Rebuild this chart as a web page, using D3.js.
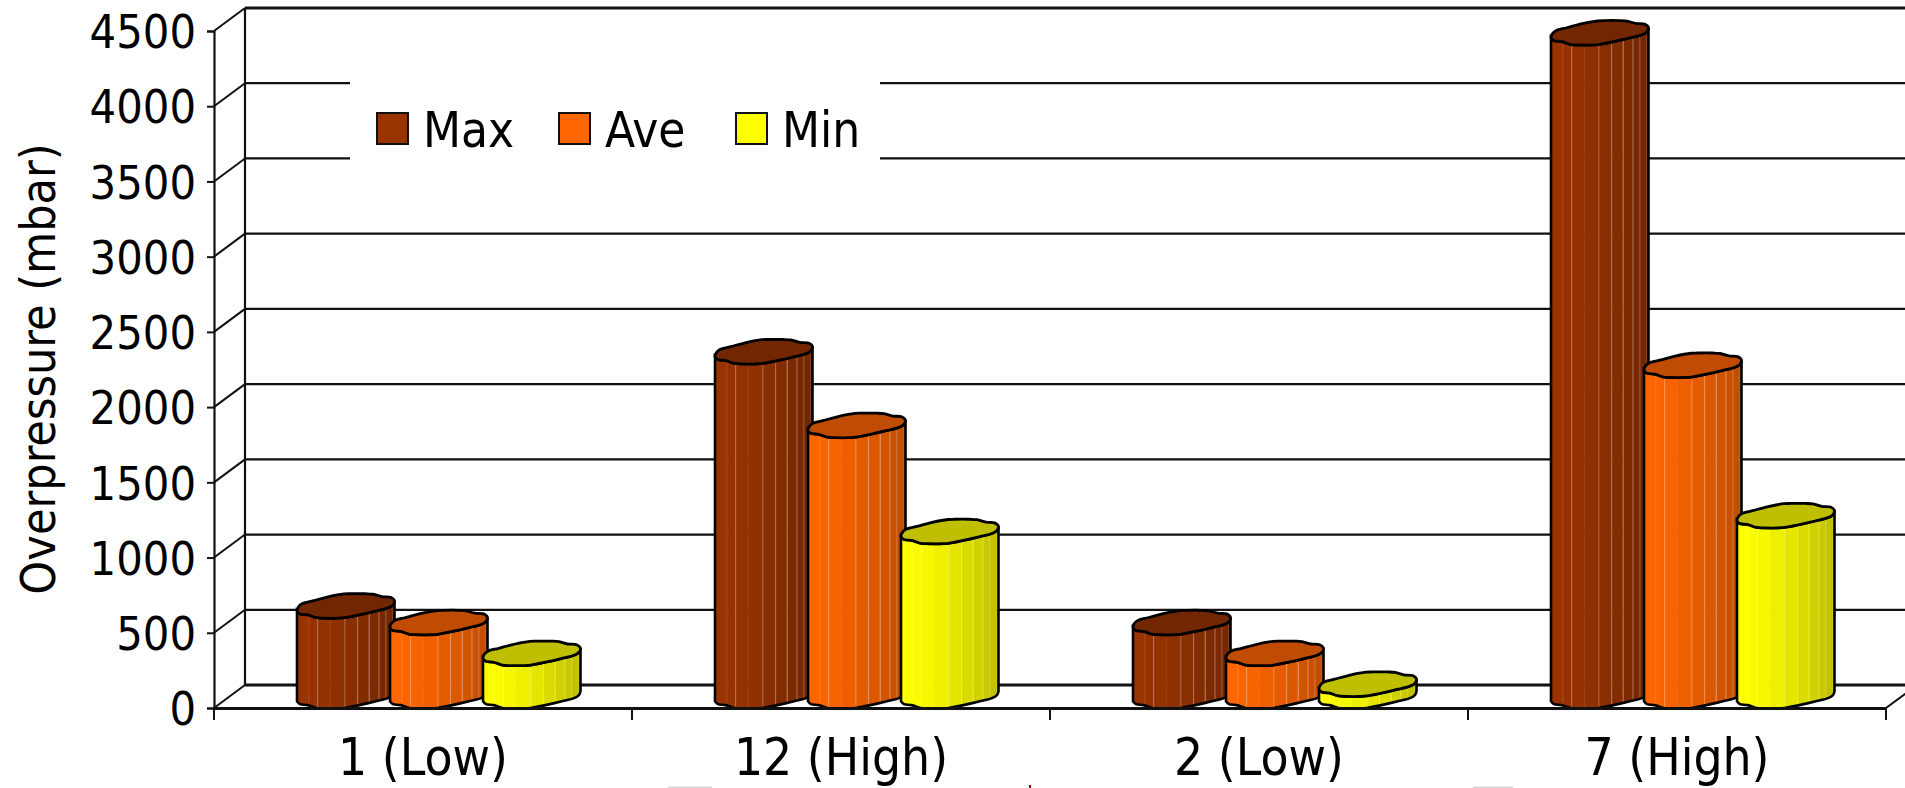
<!DOCTYPE html>
<html>
<head>
<meta charset="utf-8">
<style>
html, body { margin: 0; padding: 0; background: #fff; overflow: hidden; }
svg { display: block; }
text { font-family: "DejaVu Sans Condensed", "DejaVu Sans", sans-serif; fill: #000; }
</style>
<script src="https://cdnjs.cloudflare.com/ajax/libs/d3/7.8.5/d3.min.js"></script>
</head>
<body>
<script>
// Chart data
const categories = ["1 (Low)", "12 (High)", "2 (Low)", "7 (High)"];
const seriesNames = ["Max", "Ave", "Min"];
const maxValues = [600, 2290, 490, 4410];
const aveValues = [490, 1800, 285, 2200];
const minValues = [285, 1095, 80, 1200];
const yTicks = [0, 500, 1000, 1500, 2000, 2500, 3000, 3500, 4000, 4500];
const sideColors = ["#993300", "#ff6600", "#ffff00"];
const capColors = ["#722700", "#bf4c00", "#bfbf00"];

const seriesValues = [maxValues, aveValues, minValues];

const width = 1905, height = 788;
const depthX = 31, depthY = 23;
const barWidth = 97.5, capHeight = 24;

const svg = d3.select("body").append("svg").attr("width", width).attr("height", height);
const defs = svg.append("defs");

const x = d3.scaleBand().domain(categories).range([214, 1886]);
const xInner = d3.scaleBand().domain(seriesNames).range([83, 362]);
const y = d3.scaleLinear().domain([0, 4500]).range([708, 31]);

// Back wall: gridlines, wall edge and the slanted joints to the front axis
const wall = svg.append("g").attr("stroke", "#111").attr("fill", "none");
wall.selectAll("line.grid").data(yTicks).join("line").attr("class", "grid")
  .attr("x1", x.range()[0] + depthX).attr("x2", width)
  .attr("y1", d => y(d) - depthY).attr("y2", d => y(d) - depthY)
  .attr("stroke-width", d => (d === 0 || d === 4500) ? 3 : 2.2);
wall.selectAll("line.joint").data(yTicks).join("line").attr("class", "joint")
  .attr("x1", x.range()[0]).attr("x2", x.range()[0] + depthX)
  .attr("y1", d => y(d)).attr("y2", d => y(d) - depthY)
  .attr("stroke-width", 2);
wall.append("line")
  .attr("x1", x.range()[0] + depthX).attr("x2", x.range()[0] + depthX)
  .attr("y1", y(4500) - depthY).attr("y2", y(0) - depthY)
  .attr("stroke-width", 2.2);
wall.append("line")
  .attr("x1", x.range()[1]).attr("x2", x.range()[1] + depthX)
  .attr("y1", y(0)).attr("y2", y(0) - depthY)
  .attr("stroke-width", 2);

// Faceted cross-section of a cylinder, in unit coordinates of its bounding box.
// Extra points along the long sloping edges keep those edges nearly straight.
const capOutline = [
  [0, .72], [.012, .56], [.05, .42], [.16, .3], [.32, .13], [.48, .01], [.55, 0], [.7, 0], [.78, .02],
  [.87, .12], [.96, .15], [1, .3], [.985, .46], [.94, .58], [.8, .73], [.64, .88], [.49, 1], [.42, 1.02],
  [.28, 1.02], [.2, 1], [.11, .88], [.03, .84]
];
// Lower half of that outline, left to right, which forms the visible base edge
const frontOutline = [
  [0, .72], [.03, .84], [.11, .88], [.2, 1], [.28, 1.02], [.42, 1.02], [.49, 1], [.64, .88], [.8, .73],
  [.94, .58], [.985, .46], [1, .3]
];
// Facet boundaries across the body, with the highlight strength of each seam
const facetStops = [0, .12, .21, .34, .49, .62, .74, .84, .91, .98, 1];
const seamOpacity = [.12, .3, .04, .26, .3, .32, .3, .22, .12];

const capLine = d3.line().curve(d3.curveCatmullRomClosed.alpha(.5));
const edgeLine = d3.line().curve(d3.curveCatmullRom.alpha(.5));

function drawBar(group, left, value, sIndex, id) {
  const capTop = y(value) - capHeight;
  const floorTop = y(0) - capHeight;
  const px = p => left + p[0] * barWidth;
  const topEdge = frontOutline.map(p => [px(p), capTop + p[1] * capHeight]);
  const baseEdge = frontOutline.map(p => [px(p), floorTop + p[1] * capHeight]).reverse();
  const bodyPath = edgeLine(topEdge) + "L" + edgeLine(baseEdge).slice(1) + "Z";

  defs.append("clipPath").attr("id", id).append("path").attr("d", bodyPath);

  // The facets stay close to full colour on the lit side and fall off towards the right
  const side = d3.color(sideColors[sIndex]);
  const shade = d3.scalePow().exponent(1.6).domain([0, 1]).range([side, side.darker(.85)]);
  const strips = group.append("g").attr("clip-path", `url(#${id})`);
  d3.pairs(facetStops).forEach(([a, b]) => {
    strips.append("rect")
      .attr("x", left + a * barWidth).attr("width", (b - a) * barWidth + .5)
      .attr("y", capTop - 2).attr("height", y(0) - capTop + 4)
      .attr("fill", shade((a + b) / 2));
  });
  facetStops.slice(1, -1).forEach((f, i) => {
    strips.append("rect")
      .attr("x", left + f * barWidth - .5).attr("width", 1.2)
      .attr("y", capTop - 2).attr("height", y(0) - capTop + 4)
      .attr("fill", "#fff").attr("opacity", seamOpacity[i]);
  });

  group.append("path").attr("d", bodyPath)
    .attr("fill", "none").attr("stroke", "#000").attr("stroke-width", 2.6);
  group.append("path")
    .attr("d", capLine(capOutline.map(p => [px(p), capTop + p[1] * capHeight])))
    .attr("fill", capColors[sIndex]).attr("stroke", "#000").attr("stroke-width", 2.8);
}

// Cylinders, painted left to right so each one overlaps the previous
const bars = svg.append("g");
categories.forEach((cat, c) => {
  seriesNames.forEach((name, s) => {
    drawBar(bars.append("g"), x(cat) + xInner(name), seriesValues[s][c], s, `body-${c}-${s}`);
  });
});

// Value axis
const yAxis = svg.append("g").attr("transform", `translate(${x.range()[0]},0)`)
  .call(d3.axisLeft(y).tickValues(yTicks).tickFormat(d3.format("d")).tickSize(7).tickPadding(11));
yAxis.attr("font-family", null);
yAxis.select(".domain").attr("stroke", "#111").attr("stroke-width", 2.2);
yAxis.selectAll(".tick line").attr("stroke", "#111").attr("stroke-width", 2);
yAxis.selectAll(".tick text").attr("font-size", 46.5).attr("dy", ".36em");

// Category axis, with ticks on the category boundaries
const xAxis = svg.append("g").attr("transform", `translate(0,${y(0)})`)
  .call(d3.axisBottom(x).tickSize(0).tickPadding(30));
xAxis.attr("font-family", null);
xAxis.select(".domain").attr("stroke", "#111").attr("stroke-width", 3);
xAxis.selectAll(".tick text").attr("font-size", 51).attr("y", 67).attr("dy", 0);
xAxis.selectAll("line.boundary").data(d3.range(categories.length + 1)).join("line")
  .attr("class", "boundary")
  .attr("x1", i => x.range()[0] + i * x.bandwidth()).attr("x2", i => x.range()[0] + i * x.bandwidth())
  .attr("y1", 0).attr("y2", 12)
  .attr("stroke", "#111").attr("stroke-width", 2);

// Axis title
svg.append("text")
  .attr("transform", "translate(55,369) rotate(-90)")
  .attr("text-anchor", "middle").attr("font-size", 48)
  .text("Overpressure (mbar)");

// Legend on a white panel that interrupts the gridlines
const legend = svg.append("g");
legend.append("rect").attr("x", 350).attr("y", 60).attr("width", 530).attr("height", 112).attr("fill", "#fff");
const swatchX = d3.scaleOrdinal().domain(seriesNames).range([377, 559, 736]);
seriesNames.forEach((name, s) => {
  legend.append("rect")
    .attr("x", swatchX(name)).attr("y", 113).attr("width", 31).attr("height", 31)
    .attr("fill", sideColors[s]).attr("stroke", "#111").attr("stroke-width", 2);
  legend.append("text")
    .attr("x", swatchX(name) + 46).attr("y", 147)
    .attr("font-size", 49).text(name);
});

// Slivers of other artwork cut off along the lower edge
const edgeMarks = svg.append("g");
edgeMarks.append("rect").attr("x", 668).attr("y", 786.5).attr("width", 44).attr("height", 1.5).attr("fill", "#d8d8d8");
edgeMarks.append("rect").attr("x", 1473).attr("y", 786.5).attr("width", 40).attr("height", 1.5).attr("fill", "#d8d8d8");
edgeMarks.append("rect").attr("x", 1029).attr("y", 785).attr("width", 2).attr("height", 3).attr("fill", "#7a0a0a");
</script>
</body>
</html>
